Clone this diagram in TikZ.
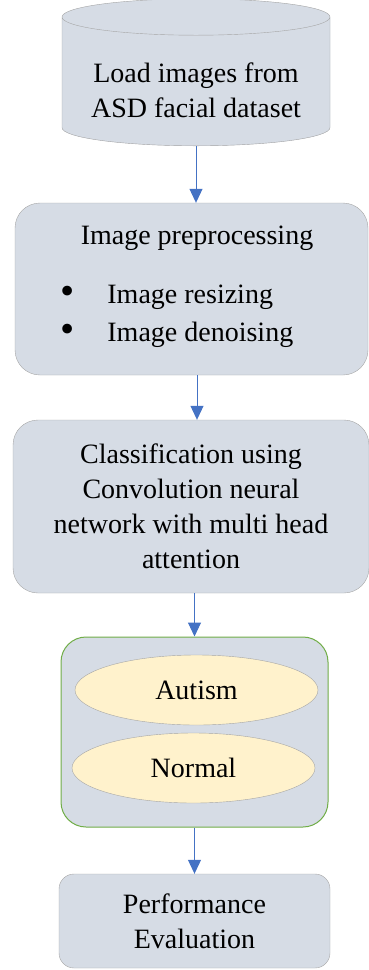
\documentclass[tikz,border=0pt]{standalone}
\usepackage{fontspec}
\setmainfont{Liberation Serif}
\usetikzlibrary{shapes,positioning,arrows.meta}

\definecolor{boxfill}{HTML}{D6DCE5}
\definecolor{boxedge}{HTML}{A6A6A6}
\definecolor{topfill}{HTML}{E6E9EE}
\definecolor{flowblue}{HTML}{4472C4}
\definecolor{groupgreen}{HTML}{70AD47}
\definecolor{classfill}{HTML}{FFF2CC}

\newcommand{\bigbullet}{\raisebox{-1pt}{\scalebox{1.45}{\textbullet}}}

\begin{document}
\begin{tikzpicture}[x=1pt,y=1pt]

  \useasboundingbox (0,0) rectangle (369,-970);

  \coordinate (Load) at (196,-81.5);
  \coordinate (Prep) at (191.5,-289);
  \coordinate (Classify) at (191,-506.5);
  \coordinate (Group) at (194.5,-732);
  \coordinate (Autism) at (196.5,-690);
  \coordinate (Normal) at (193.5,-768);
  \coordinate (Perf) at (194.5,-921);

  \tikzset{fbox/.style={draw=boxedge,thin,fill=boxfill,
                        shape=rectangle,rounded corners=25pt,
                        inner sep=0pt,align=center,
                        font=\fontsize{28}{35}\selectfont},
           tbox/.style={inner sep=0pt,align=center,
                        font=\fontsize{28}{35}\selectfont},
           cbox/.style={draw=boxedge,thin,fill=classfill,
                        shape=ellipse,inner sep=0pt,
                        minimum width=243pt,minimum height=70pt,
                        font=\fontsize{28}{35}\selectfont},
           flow/.style={-{Triangle[width=13pt,length=14pt]},
                        color=flowblue,line width=1pt}};

  % data source
  \node[draw=boxedge,thin,fill=boxfill,shape=cylinder,
        shape border rotate=90,aspect=0.14,
        cylinder uses custom fill,cylinder body fill=boxfill,
        cylinder end fill=topfill,
        minimum width=268pt,minimum height=147pt,inner sep=0pt,
        font=\fontsize{28}{35}\selectfont]
        (LoadBox) at (Load) {\phantom{\parbox{260pt}{A\\ A}}};
  \node[tbox] (LoadText) at (196,-90.5) {Load images from\\ ASD facial dataset};

  % preprocessing
  \node[fbox,minimum width=353pt,minimum height=172pt] (PrepBox) at (Prep) {};
  \node[tbox] (PrepTitle) at (197,-238) {Image preprocessing};
  \node[tbox,anchor=west] (PrepResize) at (60,-297)
        {\bigbullet\hspace{33pt}Image resizing};
  \node[tbox,anchor=west] (PrepDenoise) at (60,-335)
        {\bigbullet\hspace{33pt}Image denoising};
  \draw[flow] (LoadBox.south) -- (LoadBox.south |- PrepBox.north);

  % classifier
  \node[fbox,minimum width=356pt,minimum height=173pt] (ClassifyBox) at (Classify)
        {Classification using\\ Convolution neural\\
         network with multi head\\ attention};
  \draw[flow] (PrepBox.south -| PrepTitle) -- (PrepTitle |- ClassifyBox.north);

  % output classes
  \node[fbox,draw=groupgreen,line width=1pt,minimum width=267pt,
        minimum height=190pt] (GroupBox) at (Group) {};
  \node[cbox] (AutismBox) at (Autism) {Autism};
  \node[cbox] (NormalBox) at (Normal) {Normal};
  \draw[flow] (ClassifyBox.south -| GroupBox) -- (GroupBox.north);

  % evaluation
  \node[fbox,rounded corners=15pt,minimum width=271pt,minimum height=94pt]
        (PerfBox) at (Perf) {Performance\\ Evaluation};
  \draw[flow] (GroupBox.south) -- (PerfBox.north);

\end{tikzpicture}
\end{document}
